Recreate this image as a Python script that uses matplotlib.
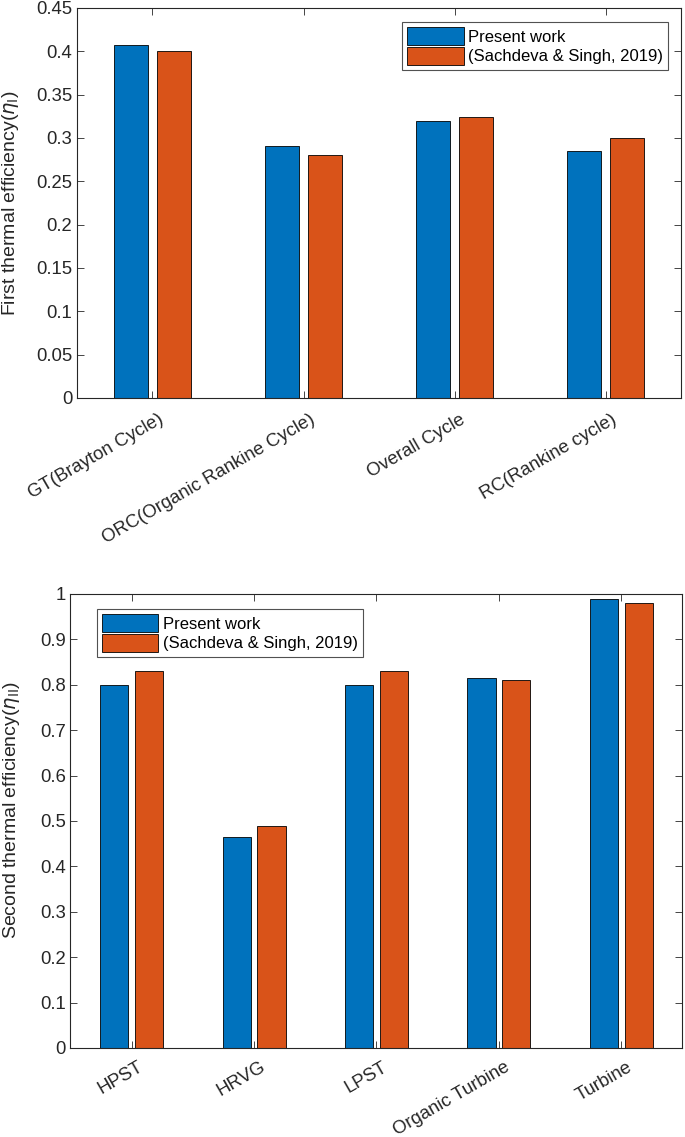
import numpy as np
import matplotlib
matplotlib.use('Agg')
from matplotlib import pyplot as plt
from matplotlib.transforms import ScaledTranslation

plt.rcParams['font.family'] = ['Liberation Sans', 'DejaVu Sans']
plt.rcParams['mathtext.fontset'] = 'dejavusans'

# first law efficiencies
cats1 = ['GT(Brayton Cycle)', 'ORC(Organic Rankine Cycle)', 'Overall Cycle', 'RC(Rankine cycle)']
present1 = [0.407, 0.291, 0.320, 0.285]
sachdeva1 = [0.400, 0.280, 0.324, 0.300]

# second law efficiencies
cats2 = ['HPST', 'HRVG', 'LPST', 'Organic Turbine', 'Turbine']
present2 = [0.800, 0.465, 0.800, 0.815, 0.988]
sachdeva2 = [0.830, 0.490, 0.830, 0.810, 0.980]

series_names = ['Present work', '(Sachdeva & Singh, 2019)']
blue = '#0072BD'
orange = '#D95319'
dark = '#262626'


def draw(fig, ax, cats, a, b, ylim, yticks, ylabel, label_xy, xpad, legend_loc, legend_anchor):
    x = np.arange(1, len(cats) + 1)
    w = 0.23
    ax.bar(x - 0.142, a, w, color=blue, edgecolor='black', linewidth=0.6, label=series_names[0])
    ax.bar(x + 0.142, b, w, color=orange, edgecolor='black', linewidth=0.6, label=series_names[1])
    ax.set_xlim(0.5, len(cats) + 0.5)
    ax.set_ylim(*ylim)
    ax.set_yticks(yticks)
    ax.set_yticklabels(['%g' % t for t in yticks])
    ax.set_xticks(x)
    ax.set_xticklabels(cats, rotation=30, ha='right', rotation_mode='anchor')
    ax.tick_params(direction='in', top=True, right=True, labelsize=13.3, colors=dark,
                   length=5, width=0.6)
    ax.tick_params(axis='x', pad=xpad)
    shift = ScaledTranslation(4 / 72, 0, fig.dpi_scale_trans)
    for lab in ax.get_xticklabels():
        lab.set_transform(lab.get_transform() + shift)
    for s in ax.spines.values():
        s.set_color(dark)
        s.set_linewidth(0.8)
    ax.set_ylabel(ylabel, fontsize=14, color=dark)
    ax.yaxis.set_label_coords(*label_xy)
    leg = ax.legend(loc=legend_loc, bbox_to_anchor=legend_anchor, fontsize=12,
                    fancybox=False, edgecolor=dark, handlelength=3.4, handleheight=1.3,
                    borderpad=0.3, labelspacing=0.1, handletextpad=0.25, borderaxespad=0)
    leg.get_frame().set_linewidth(0.8)


fig = plt.figure(figsize=(6.85, 11.37), dpi=100)

ax1 = fig.add_axes([0.1124, 0.650, 0.8818, 0.343])
draw(fig, ax1, cats1, present1, sachdeva1, (0, 0.45), np.arange(0, 0.451, 0.05),
     r'First thermal efficiency($\eta_{\mathrm{I}}$)', (-0.092, 0.5), 9.5,
     'upper right', (0.978, 0.964))

ax2 = fig.add_axes([0.1029, 0.0783, 0.8934, 0.3993])
draw(fig, ax2, cats2, present2, sachdeva2, (0, 1), np.arange(0, 1.01, 0.1),
     r'Second thermal efficiency($\eta_{\mathrm{II}}$)', (-0.080, 0.524), 7.5,
     'upper left', (0.043, 0.967))

fig.savefig('out.png', dpi=100)
